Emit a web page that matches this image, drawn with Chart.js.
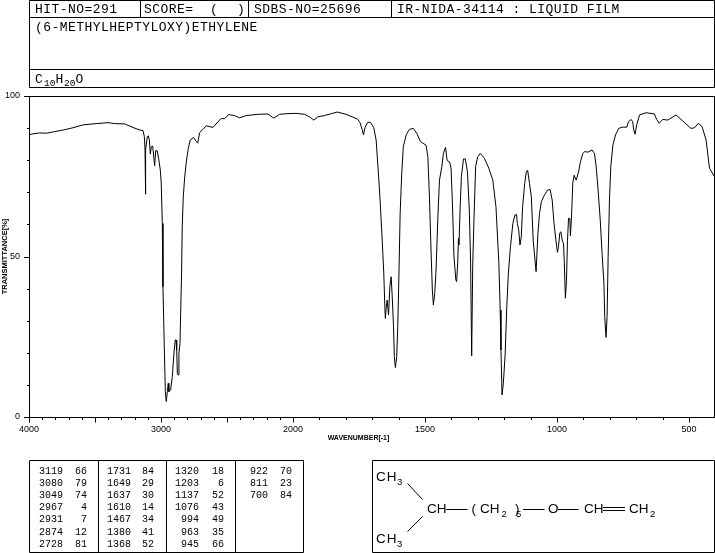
<!DOCTYPE html>
<html>
<head>
<meta charset="utf-8">
<title>IR spectrum</title>
<script src="https://cdn.jsdelivr.net/npm/chart.js@4"></script>
<style>
  html, body { margin: 0; padding: 0; background: #fff; }
  #wrap { position: relative; width: 715px; height: 553px; overflow: hidden; }
  #irChart { position: absolute; left: 0; top: 0; }
  #overlay { position: absolute; left: 0; top: 0; }
</style>
</head>
<body>
<div id="wrap">
  <canvas id="irChart" width="715" height="553"></canvas>
  <svg id="overlay" width="715" height="553" xmlns="http://www.w3.org/2000/svg"></svg>
</div>
<script>
// ========================================
// Spectrum values
// ========================================
const waveNumbers = [
  4000, 3970, 3919, 3869, 3806, 3742, 3667, 3591, 3490, 3402, 3351, 3275, 3212, 3162, 3136, 3126, 3121, 3119, 3114, 3104,
  3096, 3088, 3081, 3073, 3063, 3056, 3048, 3040, 3028, 3018, 3005, 2998, 2990, 2985, 2975, 2967, 2960, 2952, 2945, 2940,
  2927, 2914, 2902, 2892, 2886, 2881, 2876, 2871, 2864, 2856, 2851, 2844, 2839, 2831, 2821, 2808, 2793, 2778, 2753, 2732,
  2722, 2707, 2682, 2657, 2606, 2568, 2543, 2518, 2488, 2443, 2405, 2354, 2266, 2191, 2145, 2102, 2039, 1988, 1956, 1937,
  1921, 1906, 1881, 1855, 1832, 1799, 1755, 1746, 1738, 1733, 1727, 1717, 1707, 1694, 1685, 1678, 1670, 1662, 1656, 1652,
  1650, 1647, 1643, 1638, 1633, 1628, 1624, 1619, 1616, 1612, 1607, 1603, 1599, 1594, 1588, 1582, 1571, 1559, 1544, 1531,
  1517, 1508, 1496, 1489, 1483, 1477, 1472, 1468, 1463, 1458, 1451, 1445, 1436, 1430, 1422, 1416, 1407, 1401, 1396, 1390,
  1383, 1380, 1376, 1373, 1371, 1367, 1362, 1354, 1347, 1339, 1332, 1327, 1323, 1319, 1314, 1308, 1300, 1290, 1275, 1258,
  1243, 1231, 1220, 1215, 1212, 1208, 1203, 1196, 1190, 1184, 1176, 1167, 1159, 1153, 1150, 1145, 1140, 1135, 1130, 1122,
  1116, 1111, 1104, 1097, 1090, 1085, 1079, 1072, 1066, 1059, 1047, 1035, 1026, 1018, 1011, 1004, 998, 994, 989, 985,
  980, 975, 972, 968, 964, 960, 956, 951, 949, 945, 940, 935, 927, 918, 911, 902, 894, 883, 867, 858,
  852, 844, 836, 829, 822, 819, 814, 810, 806, 801, 796, 788, 778, 766, 753, 735, 729, 719, 713, 709,
  704, 698, 687, 662, 631, 622, 613, 599, 580, 549, 523, 492, 479, 464, 450, 435, 422, 405
];
const transmittance = [
  87.9, 88.2, 88.5, 88.4, 88.9, 89.4, 90.1, 91.0, 91.4, 91.7, 91.4, 91.3, 90.2, 89.4, 89.2, 87.3, 83.4, 69.4, 83.2, 87.3,
  87.6, 86.3, 81.9, 84.2, 84.4, 81.6, 78.3, 83.0, 82.9, 80.6, 76.9, 72.8, 60.3, 40.6, 21.9, 7.9, 4.8, 7.9, 10.5, 7.9,
  8.4, 12.6, 19.8, 24, 24, 20.9, 13.6, 13.1, 19.8, 22.9, 32.3, 44.8, 59.3, 68.6, 74.4, 79.5, 83.7, 86.3, 87.1, 85.8,
  85.3, 88.6, 89.6, 90.7, 90.2, 92, 93, 92.9, 94.2, 93.9, 93.2, 93.9, 94.3, 94.4, 93.1, 94.3, 94.5, 94.6, 94.3, 93.5,
  92.5, 93.5, 93.9, 94.5, 95, 94.3, 92.8, 91.7, 89.6, 87.9, 90.2, 91.8, 91.8, 90.2, 86.3, 78, 67.6, 55.1, 44.8, 34.4,
  30.7, 33.9, 36.4, 31.8, 40.6, 43.7, 37.5, 28.1, 18.8, 15.4, 18.8, 28.1, 42.7, 63.4, 75.9, 84.2, 87.9, 89.6, 89.9, 88.4,
  85.8, 85.3, 84.7, 81.1, 68.6, 52, 39.6, 34.9, 38.5, 45.8, 62.4, 73.8, 78, 82.1, 84, 79.9, 79.5, 77.5, 66.6, 49.9,
  42.7, 42.2, 47.9, 55.7, 53.6, 64.5, 74.9, 80.4, 80.4, 76.4, 64.5, 47.9, 19.1, 47.4, 62.4, 78, 81.1, 82.1, 80.6, 77.5,
  73.8, 65.5, 47.9, 33.3, 20.9, 6.9, 10.5, 19.8, 34.4, 44.8, 53.1, 60.3, 62.9, 63.1, 60.3, 58.3, 53.6, 56.2, 65.5, 72.8,
  76.4, 76.9, 72.8, 68.6, 55.1, 50.5, 45.3, 57.2, 63.4, 67.1, 69.2, 70.7, 70.9, 67.6, 60.3, 55.1, 51.3, 53.1, 57.4, 57.7,
  55.1, 53.9, 47.9, 37, 42.2, 55.1, 61.9, 61.9, 56.5, 61.9, 72.8, 75.3, 73.8, 76.4, 79.5, 82.1, 82.7, 82.5, 83.2, 82.1,
  78.5, 70.7, 61.4, 51, 41.6, 31.3, 24.8, 31.3, 50, 67.6, 78, 84.7, 87.9, 89.9, 90.3, 90.3, 92, 92.7, 92, 89.4,
  88.1, 91, 94.1, 94.8, 94.4, 92.7, 91.5, 92.7, 92.5, 94.1, 92.2, 89.9, 90.1, 91.5, 90.4, 86.3, 77.5, 75.1
];

const xTickLabels = [4000, 3000, 2000, 1500, 1000, 500];
const yTickLabels = [0, 50, 100];

// Peak table, read down the columns
const peakWave = [
  3119, 3080, 3049, 2967, 2931, 2874, 2728,
  1731, 1649, 1637, 1610, 1467, 1380, 1368,
  1320, 1203, 1137, 1076, 994, 963, 945,
  922, 811, 700
];
const peakTrans = [
  66, 79, 74, 4, 7, 12, 81,
  84, 29, 30, 14, 34, 41, 52,
  18, 6, 52, 43, 49, 35, 66,
  70, 23, 84
];

// ======================================================
// X axis: 2000-400 is drawn at twice the scale of 4000-2000
// ======================================================
class WavenumberScale extends Chart.LinearScale {
  buildTicks() {
    const ticks = [];
    for (let v = this.max; v >= 500; v -= 100) ticks.push({ value: v });
    return ticks;
  }
  getPixelForValue(value) {
    const units = value >= 2000 ? this.max - value : (this.max - 2000) + (2000 - value) * 2;
    const total = (this.max - 2000) + (2000 - this.min) * 2;
    return this.getPixelForDecimal(units / total);
  }
}
WavenumberScale.id = "wavenumber";
WavenumberScale.defaults = Chart.LinearScale.defaults;
Chart.register(WavenumberScale);

// Frame and the two tick lengths, which grid options can't do per tick
const framePlugin = {
  id: "frame",
  afterDatasetsDraw(chart) {
    const { ctx, chartArea: a, scales } = chart;
    ctx.save();
    ctx.strokeStyle = "#000";
    ctx.lineWidth = 1;
    ctx.strokeRect(a.left + 0.5, a.top + 0.5, a.right - a.left, a.bottom - a.top);
    ctx.beginPath();
    scales.x.ticks.forEach(t => {
      const px = Math.round(scales.x.getPixelForValue(t.value)) + 0.5;
      ctx.moveTo(px, a.bottom);
      ctx.lineTo(px, a.bottom + (t.value % 500 === 0 ? 5.5 : 3));
    });
    scales.y.ticks.forEach(t => {
      const py = Math.round(scales.y.getPixelForValue(t.value)) + 0.5;
      ctx.moveTo(a.left, py);
      ctx.lineTo(a.left - (t.value % 50 === 0 ? 5 : 2), py);
    });
    ctx.stroke();
    ctx.restore();
  }
};

const tickFont = { family: "Liberation Sans", size: 9 };

new Chart(document.getElementById("irChart").getContext("2d"), {
  type: "line",
  data: {
    datasets: [{
      data: waveNumbers.map((w, i) => ({ x: w, y: transmittance[i] })),
      borderColor: "#000",
      borderWidth: 1,
      pointRadius: 0,
      tension: 0,
      fill: false
    }]
  },
  options: {
    responsive: false,
    animation: false,
    layout: { autoPadding: false, padding: { top: 96, left: 0, right: 1, bottom: 0 } },
    plugins: { legend: { display: false }, tooltip: { enabled: false } },
    scales: {
      x: {
        type: "wavenumber",
        min: 405,
        max: 4000,
        afterFit: s => { s.height = 136; },
        grid: { display: false, drawTicks: false },
        border: { display: false },
        ticks: {
          autoSkip: false,
          maxRotation: 0,
          padding: 7,
          color: "#000",
          font: tickFont,
          callback: v => xTickLabels.includes(v) ? String(v) : ""
        }
      },
      y: {
        min: 0,
        max: 100,
        afterFit: s => { s.width = 29; },
        grid: { display: false, drawTicks: false },
        border: { display: false },
        ticks: {
          stepSize: 10,
          padding: 9,
          color: "#000",
          font: tickFont,
          callback: v => yTickLabels.includes(v) ? String(v) : ""
        },
        title: {
          display: true,
          text: "TRANSMITTANCE[%]",
          color: "#000",
          font: { family: "Liberation Sans", size: 7.5, weight: "bold" },
          padding: { top: 0, bottom: 0 }
        }
      }
    }
  },
  plugins: [framePlugin]
});

// ======================================================
// Header, peak table and structure drawing
// ======================================================
const svg = document.getElementById("overlay");
const SVG_NS = "http://www.w3.org/2000/svg";

function addLine(x1, y1, x2, y2) {
  const el = document.createElementNS(SVG_NS, "line");
  el.setAttribute("x1", x1); el.setAttribute("y1", y1);
  el.setAttribute("x2", x2); el.setAttribute("y2", y2);
  el.setAttribute("stroke", "#000");
  el.setAttribute("stroke-width", 1);
  svg.appendChild(el);
}

function addText(x, y, str, size, opts = {}) {
  const el = document.createElementNS(SVG_NS, "text");
  el.setAttribute("x", x);
  el.setAttribute("y", y);
  el.setAttribute("font-family", opts.family || "Liberation Mono");
  el.setAttribute("font-size", size);
  el.setAttribute("fill", "#000");
  if (opts.anchor) el.setAttribute("text-anchor", opts.anchor);
  if (opts.spacing) el.setAttribute("letter-spacing", opts.spacing);
  if (opts.weight) el.setAttribute("font-weight", opts.weight);
  el.textContent = str;
  svg.appendChild(el);
}

function addBox(x1, y1, x2, y2) {
  addLine(x1, y1, x2, y1);
  addLine(x1, y2, x2, y2);
  addLine(x1, y1, x1, y2);
  addLine(x2, y1, x2, y2);
}

// Header
addBox(29.5, 0.5, 714.5, 87.5);
addLine(29.5, 17.5, 714.5, 17.5);
addLine(29.5, 69.5, 714.5, 69.5);
addLine(140.5, 0.5, 140.5, 17.5);
addLine(248.5, 0.5, 248.5, 17.5);
addLine(391.5, 0.5, 391.5, 17.5);

const headSpacing = 0.45;
addText(35, 13, "HIT-NO=291", 13, { spacing: headSpacing });
addText(144, 13, "SCORE=", 13, { spacing: headSpacing });
addText(210, 13, "(", 13);
addText(237, 13, ")", 13);
addText(254, 13, "SDBS-NO=25696", 13, { spacing: headSpacing });
addText(397, 13, "IR-NIDA-34114 : LIQUID FILM", 13, { spacing: headSpacing });
addText(35, 31, "(6-METHYLHEPTYLOXY)ETHYLENE", 13, { spacing: headSpacing });

addText(35, 83, "C", 13);
addText(44, 86, "10", 9.5);
addText(55.5, 83, "H", 13);
addText(64, 86, "20", 9.5);
addText(75.5, 83, "O", 13);

// X axis title sits left of the plot centre in the reference
addText(358.5, 440, "WAVENUMBER[-1]", 7, { family: "Liberation Sans", anchor: "middle", weight: "bold" });

// Peak table
addBox(29.5, 460.5, 303.5, 552.5);
addLine(98.5, 460.5, 98.5, 552.5);
addLine(166.5, 460.5, 166.5, 552.5);
addLine(235.5, 460.5, 235.5, 552.5);

const rowBaselines = [473.5, 485.5, 497.5, 510, 522, 534.5, 547];
const waveRight = [63, 131, 199, 268];
const transRight = [87, 154, 224, 292];
peakWave.forEach((w, i) => {
  const col = Math.floor(i / 7);
  const row = i % 7;
  addText(waveRight[col], rowBaselines[row], String(w), 10, { anchor: "end" });
  addText(transRight[col], rowBaselines[row], String(peakTrans[i]), 10, { anchor: "end" });
});

// Structure
addBox(372.5, 460.5, 714.5, 552.5);
const sans = { family: "Liberation Sans" };
const sansWide = { family: "Liberation Sans", spacing: 1 };
addText(376, 481, "CH", 13.5, sansWide);
addText(397, 485, "3", 9.5, sans);
addText(376, 543, "CH", 13.5, sansWide);
addText(397, 547, "3", 9.5, sans);
addLine(407.5, 483.5, 422.5, 499.5);
addLine(422.5, 516.5, 407.5, 531.5);
addText(427, 513, "CH", 13.5, sans);
addLine(446, 509.5, 467.5, 509.5);
addText(471.5, 513, "(", 13.5, sans);
addText(480, 513, "CH", 13.5, sans);
addText(501.5, 517, "2", 9.5, sans);
addText(515, 513, ")", 13.5, sans);
addText(516, 517, "5", 9.5, sans);
addLine(523, 509.5, 544.5, 509.5);
addText(548, 513, "O", 13.5, sans);
addLine(558, 509.5, 578.5, 509.5);
addText(584, 513, "CH", 13.5, sans);
addLine(603, 507.5, 625, 507.5);
addLine(603, 510.5, 625, 510.5);
addText(629, 513, "CH", 13.5, sans);
addText(650, 517, "2", 9.5, sans);
</script>
</body>
</html>
